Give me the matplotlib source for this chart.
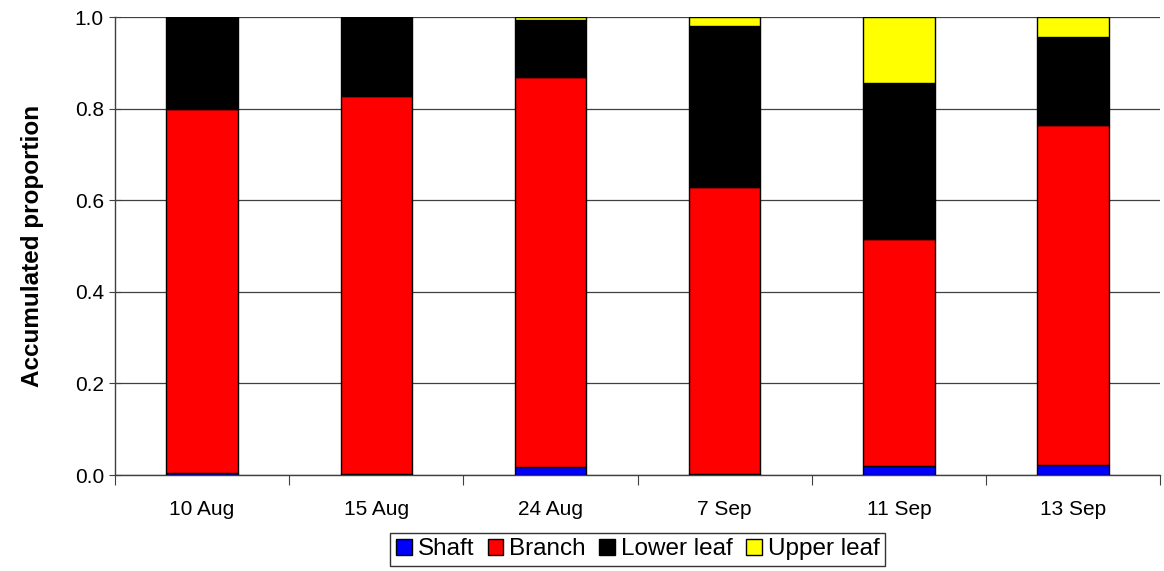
import matplotlib

matplotlib.use("Agg")
import matplotlib.pyplot as plt
import numpy as np

plt.rcParams["font.family"] = ["Liberation Sans", "DejaVu Sans"]

# Sampling dates and the proportion of each plant part (stacked to 1.0)
dates = ["10 Aug", "15 Aug", "24 Aug", "7 Sep", "11 Sep", "13 Sep"]
shaft = [0.004, 0.002, 0.017, 0.002, 0.020, 0.022]
branch = [0.795, 0.826, 0.852, 0.627, 0.495, 0.742]
lower_leaf = [0.201, 0.172, 0.124, 0.352, 0.341, 0.193]
upper_leaf = [0.000, 0.000, 0.007, 0.019, 0.144, 0.043]

series = [
    ("Shaft", shaft, "#0000ff"),
    ("Branch", branch, "#ff0000"),
    ("Lower leaf", lower_leaf, "#000000"),
    ("Upper leaf", upper_leaf, "#ffff00"),
]

fig = plt.figure(figsize=(11.64, 5.71), dpi=100)
ax = fig.add_axes([0.0988, 0.168, 0.898, 0.802])

x = np.arange(len(dates)) + 0.5
bottom = np.zeros(len(dates))
for name, vals, col in series:
    vals = np.array(vals)
    ax.bar(x, vals, width=0.41, bottom=bottom, color=col, edgecolor="black",
           linewidth=1.0, label=name, zorder=3)
    bottom += vals

ax.set_xlim(0, len(dates))
ax.set_ylim(0, 1.0)
ax.set_yticks(np.arange(0, 1.01, 0.2))
ax.set_yticklabels([f"{v:.1f}" for v in np.arange(0, 1.01, 0.2)], fontsize=15)

# tick marks at category boundaries, labels at centres
ax.set_xticks(np.arange(len(dates) + 1))
ax.set_xticklabels([])
ax.set_xticks(x, minor=True)
ax.set_xticklabels(dates, minor=True, fontsize=15)
ax.tick_params(axis="x", which="major", direction="out", length=7, color="#404040")
ax.tick_params(axis="x", which="minor", length=0, pad=18)
ax.tick_params(axis="y", direction="inout", length=8, color="#404040", pad=4)

ax.yaxis.grid(True, color="#404040", linewidth=0.9, zorder=0)
ax.set_axisbelow(True)
for s in ["top", "right"]:
    ax.spines[s].set_visible(False)
for s in ["left", "bottom"]:
    ax.spines[s].set_color("#404040")
    ax.spines[s].set_linewidth(1.0)

ax.set_ylabel("Accumulated proportion", fontsize=17.5, fontweight="bold", labelpad=22)

leg = fig.legend(loc="lower center", bbox_to_anchor=(0.548, -0.012), ncol=4,
                 fontsize=17.5, frameon=True, fancybox=False, handlelength=0.65,
                 handleheight=0.65, handletextpad=0.25, columnspacing=0.55,
                 borderpad=0.22)
leg.get_frame().set_edgecolor("black")
leg.get_frame().set_linewidth(1.0)

fig.savefig("out.png", dpi=100)
